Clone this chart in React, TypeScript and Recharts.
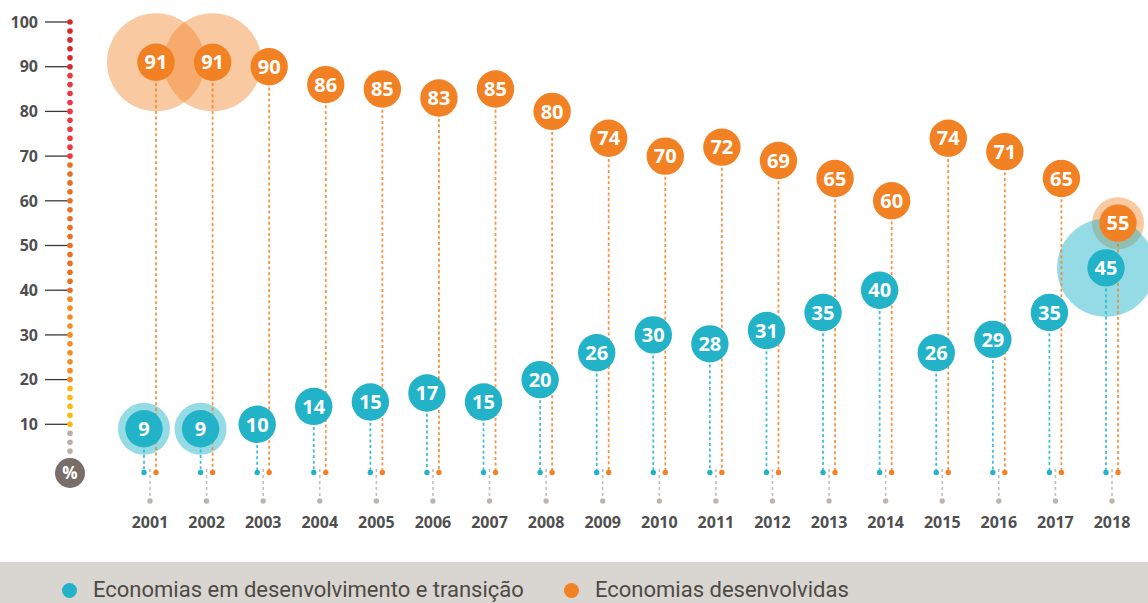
import React from 'react';
import { ScatterChart, Scatter, XAxis, YAxis, Legend } from 'recharts';

const years = [2001, 2002, 2003, 2004, 2005, 2006, 2007, 2008, 2009, 2010, 2011, 2012, 2013, 2014, 2015, 2016, 2017, 2018];
const developed = [91, 91, 90, 86, 85, 83, 85, 80, 74, 70, 72, 69, 65, 60, 74, 71, 65, 55];
const developing = [9, 9, 10, 14, 15, 17, 15, 20, 26, 30, 28, 31, 35, 40, 26, 29, 35, 45];
// highlight halo level per year: 0 none, 1 small, 2 large
const developedHalo = [2, 2, 0, 0, 0, 0, 0, 0, 0, 0, 0, 0, 0, 0, 0, 0, 0, 1];
const developingHalo = [1, 1, 0, 0, 0, 0, 0, 0, 0, 0, 0, 0, 0, 0, 0, 0, 0, 2];
const yTicks = [0, 4, 6, 8, 10, 12, 14, 16, 18, 20, 22, 24, 26, 28, 30, 32, 34, 36, 38, 40, 42, 44, 46, 48, 50, 52, 54, 56, 58, 60, 62, 64, 66, 68, 70, 72, 74, 76, 78, 80, 82, 84, 86, 88, 90, 92, 94, 96, 98, 100];
const seriesNames = ['Economias em desenvolvimento e transição', 'Economias desenvolvidas'];

const W = 1148;
const H = 603;
const TOP = 22;
const LEGEND_H = 41;
const PLOT_BOTTOM = 469;
const XAXIS_H = H - LEGEND_H - PLOT_BOTTOM;
const BASE_Y = PLOT_BOTTOM + 3.5;

const ORANGE = '#f28124';
const TEAL = '#22b3c8';
const FONT = '"Open Sans", "Noto Sans", sans-serif';

const developedData = years.map((year, i) => ({ year, value: developed[i], halo: developedHalo[i] }));
const developingData = years.map((year, i) => ({ year, value: developing[i], halo: developingHalo[i] }));

const dotColor = (v: number) => {
  if (v <= 8) return '#b8afa8';
  if (v <= 18) return '#fdb913';
  if (v <= 38) return '#f58c22';
  if (v <= 68) return '#ec6e22';
  if (v <= 88) return '#ee3743';
  return '#d9272f';
};

const YTick = (props: any) => {
  const { x, y, payload } = props;
  const v = payload.value;
  if (v === 0) {
    return (
      <g>
        <circle cx={x} cy={y + 4} r={15} fill="#7a6e6a" />
        <text x={x} y={y + 4} dy="0.36em" textAnchor="middle" fill="#fff" fontSize={17} fontWeight={700} fontFamily={FONT}>%</text>
      </g>
    );
  }
  return (
    <g>
      {v % 10 === 0 && (
        <>
          <line x1={x - 25} x2={x} y1={y} y2={y} stroke="#3a3a3a" strokeWidth={1.3} />
          <text x={x - 32} y={y} dy="0.36em" textAnchor="end" fill="#4f4f4f" fontSize={16} fontWeight={700} fontFamily={FONT}>{v}</text>
        </>
      )}
      <circle cx={x} cy={y} r={2.8} fill={dotColor(v)} />
    </g>
  );
};

const XTick = (props: any) => {
  const { x, y, payload } = props;
  return (
    <g>
      <line x1={x} x2={x} y1={y} y2={y + 30} stroke="#c4beb8" strokeWidth={1.6} strokeDasharray="3 3" />
      <circle cx={x} cy={y + 32} r={2.7} fill="#bdb5ae" />
      <text x={x} y={y + 53} dy="0.36em" textAnchor="middle" fill="#4f4f4f" fontSize={16} fontWeight={700} fontFamily={FONT}>{payload.value}</text>
    </g>
  );
};

const haloShape = (color: string, dx: number, opacity: number) => (props: any) => {
  const { cx, cy, payload } = props;
  if (!payload.halo) return <g />;
  const r = payload.halo === 2 ? 49 : 26;
  return <circle cx={cx + dx} cy={cy} r={r} fill={color} fillOpacity={opacity} />;
};

const bubbleShape = (color: string, dx: number) => (props: any) => {
  const { cx, cy, payload } = props;
  const x = cx + dx;
  const r = 18.7;
  return (
    <g>
      <line x1={x} x2={x} y1={cy + r + 2} y2={BASE_Y} stroke={color} strokeOpacity={0.85} strokeWidth={1.8} strokeDasharray="3 2.6" />
      <circle cx={x} cy={BASE_Y} r={2.7} fill={color} />
      <circle cx={x} cy={cy} r={r} fill={color} />
      <text x={x} y={cy} dy="0.36em" textAnchor="middle" fill="#fff" fontSize={20} fontWeight={700} fontFamily={FONT}>{payload.value}</text>
    </g>
  );
};

const LegendContent = () => (
  <div style={{ height: LEGEND_H, width: W, background: '#d9d5d0', position: 'relative', overflow: 'hidden', fontFamily: 'Roboto, "Open Sans", sans-serif' }}>
    {[TEAL, ORANGE].map((c, i) => (
      <div key={i} style={{ position: 'absolute', left: i === 0 ? 62 : 564, top: 13, display: 'flex', alignItems: 'center', whiteSpace: 'nowrap' }}>
        <span style={{ width: 15, height: 15, borderRadius: '50%', background: c, display: 'inline-block' }} />
        <span style={{ marginLeft: 16, fontSize: 22, color: '#4d4a45', lineHeight: '30px' }}>{seriesNames[i]}</span>
      </div>
    ))}
  </div>
);

export default function App() {
  return (
    <div style={{ position: 'absolute', left: 0, top: 0, width: W, height: H, background: '#fff' }}>
      <ScatterChart width={W} height={H} margin={{ top: TOP, right: 0, bottom: 0, left: 0 }}>
        <XAxis
          type="number"
          dataKey="year"
          domain={[2001, 2018]}
          ticks={years}
          interval={0}
          padding={{ left: 80, right: 36 }}
          height={XAXIS_H}
          axisLine={false}
          tickLine={false}
          tickSize={0}
          tickMargin={0}
          tick={<XTick />}
        />
        <YAxis
          type="number"
          dataKey="value"
          domain={[0, 100]}
          ticks={yTicks}
          interval={0}
          width={70}
          axisLine={false}
          tickLine={false}
          tickSize={0}
          tickMargin={0}
          tick={<YTick />}
        />
        <Legend verticalAlign="bottom" height={LEGEND_H} content={<LegendContent />} wrapperStyle={{ left: 0, bottom: 0, width: W }} />
        <Scatter name="h1" data={developedData} shape={haloShape(ORANGE, 6, 0.43)} isAnimationActive={false} legendType="none" />
        <Scatter name="h2" data={developingData} shape={haloShape(TEAL, -6, 0.48)} isAnimationActive={false} legendType="none" />
        <Scatter name={seriesNames[1]} data={developedData} shape={bubbleShape(ORANGE, 6)} isAnimationActive={false} />
        <Scatter name={seriesNames[0]} data={developingData} shape={bubbleShape(TEAL, -6)} isAnimationActive={false} />
      </ScatterChart>
    </div>
  );
}
